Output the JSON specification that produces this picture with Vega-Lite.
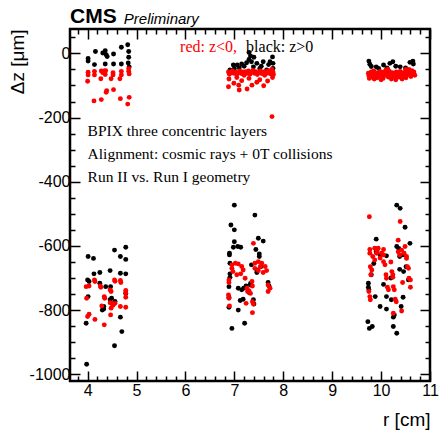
{
  "$schema": "https://vega.github.io/schema/vega-lite/v6.json",
  "width": 360,
  "height": 352,
  "autosize": {"type": "none"},
  "padding": {"left": 70, "top": 29, "right": 10, "bottom": 49},
  "background": "white",
  "config": {"view": {"stroke": "#000", "strokeWidth": 2.5}, "font": "Liberation Sans"},
  "datasets": {
    "one": [{}],
    "pts": [
      {"r":4.01,"dz":-16,"s":"pos"},{"r":4.01,"dz":-24,"s":"pos"},{"r":4.16,"dz":6,"s":"pos"},{"r":4.14,"dz":-35,"s":"pos"},{"r":4.31,"dz":1,"s":"pos"},{"r":4.36,"dz":8,"s":"pos"},{"r":4.38,"dz":-4,"s":"pos"},{"r":4.36,"dz":-33,"s":"pos"},{"r":4.53,"dz":-2,"s":"pos"},{"r":4.53,"dz":-33,"s":"pos"},{"r":4.69,"dz":19,"s":"pos"},{"r":4.69,"dz":-33,"s":"pos"},{"r":4.82,"dz":27,"s":"pos"},{"r":4.84,"dz":6,"s":"pos"},{"r":4.84,"dz":-12,"s":"pos"},{"r":4.83,"dz":-30,"s":"pos"},{"r":4.85,"dz":-42,"s":"pos"},{"r":4.40,"dz":-10,"s":"pos"},
      {"r":6.91,"dz":-52,"s":"pos"},{"r":6.98,"dz":-36,"s":"pos"},{"r":7.06,"dz":-36,"s":"pos"},{"r":7.15,"dz":-33,"s":"pos"},{"r":7.25,"dz":-29,"s":"pos"},{"r":7.30,"dz":-19,"s":"pos"},{"r":7.35,"dz":-26,"s":"pos"},{"r":7.39,"dz":-42,"s":"pos"},{"r":7.46,"dz":-31,"s":"pos"},{"r":7.52,"dz":-47,"s":"pos"},{"r":7.59,"dz":-26,"s":"pos"},{"r":7.66,"dz":-52,"s":"pos"},{"r":7.73,"dz":-26,"s":"pos"},{"r":7.78,"dz":-11,"s":"pos"},{"r":7.79,"dz":-31,"s":"pos"},{"r":7.79,"dz":-47,"s":"pos"},{"r":7.30,"dz":3,"s":"pos"},{"r":7.40,"dz":-12,"s":"pos"},{"r":7.33,"dz":-8,"s":"pos"},{"r":7.10,"dz":-45,"s":"pos"},{"r":7.20,"dz":-40,"s":"pos"},{"r":7.00,"dz":-48,"s":"pos"},{"r":7.55,"dz":-40,"s":"pos"},{"r":7.70,"dz":-35,"s":"pos"},
      {"r":9.75,"dz":-24,"s":"pos"},{"r":9.77,"dz":-34,"s":"pos"},{"r":9.80,"dz":-41,"s":"pos"},{"r":9.90,"dz":-42,"s":"pos"},{"r":10.05,"dz":-36,"s":"pos"},{"r":10.18,"dz":-31,"s":"pos"},{"r":10.24,"dz":-26,"s":"pos"},{"r":10.30,"dz":-40,"s":"pos"},{"r":10.39,"dz":-42,"s":"pos"},{"r":10.50,"dz":-45,"s":"pos"},{"r":10.59,"dz":-28,"s":"pos"},{"r":10.65,"dz":-24,"s":"pos"},{"r":10.66,"dz":-33,"s":"pos"},{"r":10.12,"dz":-45,"s":"pos"},{"r":9.95,"dz":-47,"s":"pos"},
      {"r":3.98,"dz":-969,"s":"pos"},{"r":3.97,"dz":-841,"s":"pos"},{"r":4.01,"dz":-633,"s":"pos"},{"r":4.12,"dz":-639,"s":"pos"},{"r":4.00,"dz":-706,"s":"pos"},{"r":4.03,"dz":-711,"s":"pos"},{"r":4.01,"dz":-758,"s":"pos"},{"r":4.13,"dz":-687,"s":"pos"},{"r":4.25,"dz":-683,"s":"pos"},{"r":4.25,"dz":-716,"s":"pos"},{"r":4.33,"dz":-797,"s":"pos"},{"r":4.33,"dz":-789,"s":"pos"},{"r":4.37,"dz":-727,"s":"pos"},{"r":4.46,"dz":-677,"s":"pos"},{"r":4.47,"dz":-727,"s":"pos"},{"r":4.49,"dz":-763,"s":"pos"},{"r":4.46,"dz":-768,"s":"pos"},{"r":4.55,"dz":-613,"s":"pos"},{"r":4.55,"dz":-911,"s":"pos"},{"r":4.56,"dz":-773,"s":"pos"},{"r":4.67,"dz":-633,"s":"pos"},{"r":4.67,"dz":-685,"s":"pos"},{"r":4.67,"dz":-822,"s":"pos"},{"r":4.70,"dz":-867,"s":"pos"},{"r":4.78,"dz":-604,"s":"pos"},{"r":4.78,"dz":-642,"s":"pos"},{"r":4.78,"dz":-687,"s":"pos"},{"r":4.78,"dz":-748,"s":"pos"},{"r":4.52,"dz":-780,"s":"pos"},{"r":4.30,"dz":-800,"s":"pos"},
      {"r":7.00,"dz":-473,"s":"pos"},{"r":7.42,"dz":-504,"s":"pos"},{"r":6.93,"dz":-535,"s":"pos"},{"r":7.00,"dz":-550,"s":"pos"},{"r":7.00,"dz":-587,"s":"pos"},{"r":6.98,"dz":-604,"s":"pos"},{"r":7.07,"dz":-602,"s":"pos"},{"r":7.13,"dz":-604,"s":"pos"},{"r":6.90,"dz":-623,"s":"pos"},{"r":6.90,"dz":-628,"s":"pos"},{"r":6.91,"dz":-654,"s":"pos"},{"r":6.91,"dz":-687,"s":"pos"},{"r":6.91,"dz":-698,"s":"pos"},{"r":6.89,"dz":-727,"s":"pos"},{"r":6.89,"dz":-760,"s":"pos"},{"r":6.89,"dz":-791,"s":"pos"},{"r":6.95,"dz":-857,"s":"pos"},{"r":7.08,"dz":-800,"s":"pos"},{"r":7.08,"dz":-732,"s":"pos"},{"r":7.15,"dz":-737,"s":"pos"},{"r":7.19,"dz":-732,"s":"pos"},{"r":7.18,"dz":-766,"s":"pos"},{"r":7.21,"dz":-841,"s":"pos"},{"r":7.24,"dz":-725,"s":"pos"},{"r":7.33,"dz":-722,"s":"pos"},{"r":7.33,"dz":-717,"s":"pos"},{"r":7.35,"dz":-659,"s":"pos"},{"r":7.39,"dz":-768,"s":"pos"},{"r":7.40,"dz":-781,"s":"pos"},{"r":7.49,"dz":-576,"s":"pos"},{"r":7.59,"dz":-585,"s":"pos"},{"r":7.44,"dz":-611,"s":"pos"},{"r":7.51,"dz":-625,"s":"pos"},{"r":7.51,"dz":-633,"s":"pos"},{"r":7.46,"dz":-675,"s":"pos"},{"r":7.46,"dz":-683,"s":"pos"},{"r":7.54,"dz":-665,"s":"pos"},{"r":7.69,"dz":-714,"s":"pos"},{"r":7.71,"dz":-725,"s":"pos"},{"r":7.30,"dz":-745,"s":"pos"},{"r":7.12,"dz":-770,"s":"pos"},
      {"r":10.32,"dz":-473,"s":"pos"},{"r":10.39,"dz":-483,"s":"pos"},{"r":10.49,"dz":-542,"s":"pos"},{"r":9.90,"dz":-579,"s":"pos"},{"r":9.74,"dz":-716,"s":"pos"},{"r":9.74,"dz":-729,"s":"pos"},{"r":9.75,"dz":-737,"s":"pos"},{"r":9.73,"dz":-836,"s":"pos"},{"r":9.82,"dz":-851,"s":"pos"},{"r":9.76,"dz":-857,"s":"pos"},{"r":9.88,"dz":-758,"s":"pos"},{"r":9.98,"dz":-789,"s":"pos"},{"r":9.90,"dz":-618,"s":"pos"},{"r":9.98,"dz":-628,"s":"pos"},{"r":10.11,"dz":-631,"s":"pos"},{"r":10.11,"dz":-758,"s":"pos"},{"r":10.11,"dz":-797,"s":"pos"},{"r":10.21,"dz":-768,"s":"pos"},{"r":10.25,"dz":-822,"s":"pos"},{"r":10.27,"dz":-815,"s":"pos"},{"r":10.32,"dz":-872,"s":"pos"},{"r":10.32,"dz":-602,"s":"pos"},{"r":10.36,"dz":-608,"s":"pos"},{"r":10.38,"dz":-633,"s":"pos"},{"r":10.45,"dz":-628,"s":"pos"},{"r":10.46,"dz":-680,"s":"pos"},{"r":10.38,"dz":-673,"s":"pos"},{"r":10.51,"dz":-665,"s":"pos"},{"r":10.41,"dz":-789,"s":"pos"},{"r":10.59,"dz":-592,"s":"pos"},{"r":10.56,"dz":-706,"s":"pos"},{"r":10.25,"dz":-851,"s":"pos"},{"r":10.20,"dz":-700,"s":"pos"},{"r":9.80,"dz":-690,"s":"pos"},{"r":10.05,"dz":-720,"s":"pos"},{"r":10.45,"dz":-760,"s":"pos"},{"r":9.85,"dz":-655,"s":"pos"},
      {"r":4.01,"dz":-59,"s":"neg"},{"r":4.01,"dz":-67,"s":"neg"},{"r":4.00,"dz":-87,"s":"neg"},{"r":4.14,"dz":-56,"s":"neg"},{"r":4.14,"dz":-67,"s":"neg"},{"r":4.28,"dz":-55,"s":"neg"},{"r":4.31,"dz":-60,"s":"neg"},{"r":4.34,"dz":-55,"s":"neg"},{"r":4.27,"dz":-79,"s":"neg"},{"r":4.37,"dz":-54,"s":"neg"},{"r":4.36,"dz":-66,"s":"neg"},{"r":4.52,"dz":-60,"s":"neg"},{"r":4.52,"dz":-67,"s":"neg"},{"r":4.48,"dz":-79,"s":"neg"},{"r":4.69,"dz":-56,"s":"neg"},{"r":4.69,"dz":-67,"s":"neg"},{"r":4.66,"dz":-79,"s":"neg"},{"r":4.84,"dz":-48,"s":"neg"},{"r":4.84,"dz":-56,"s":"neg"},{"r":4.85,"dz":-64,"s":"neg"},{"r":4.39,"dz":-116,"s":"neg"},{"r":4.38,"dz":-121,"s":"neg"},{"r":4.53,"dz":-113,"s":"neg"},{"r":4.13,"dz":-148,"s":"neg"},{"r":4.28,"dz":-144,"s":"neg"},{"r":4.67,"dz":-141,"s":"neg"},{"r":4.85,"dz":-137,"s":"neg"},{"r":4.82,"dz":-158,"s":"neg"},
      {"r":6.88,"dz":-58,"s":"neg"},{"r":6.90,"dz":-65,"s":"neg"},{"r":6.93,"dz":-60,"s":"neg"},{"r":6.96,"dz":-55,"s":"neg"},{"r":6.99,"dz":-62,"s":"neg"},{"r":7.02,"dz":-58,"s":"neg"},{"r":7.05,"dz":-66,"s":"neg"},{"r":7.08,"dz":-60,"s":"neg"},{"r":7.11,"dz":-55,"s":"neg"},{"r":7.14,"dz":-63,"s":"neg"},{"r":7.17,"dz":-58,"s":"neg"},{"r":7.20,"dz":-68,"s":"neg"},{"r":7.23,"dz":-57,"s":"neg"},{"r":7.26,"dz":-62,"s":"neg"},{"r":7.29,"dz":-55,"s":"neg"},{"r":7.32,"dz":-65,"s":"neg"},{"r":7.35,"dz":-59,"s":"neg"},{"r":7.38,"dz":-53,"s":"neg"},{"r":7.41,"dz":-62,"s":"neg"},{"r":7.44,"dz":-57,"s":"neg"},{"r":7.47,"dz":-66,"s":"neg"},{"r":7.50,"dz":-60,"s":"neg"},{"r":7.53,"dz":-55,"s":"neg"},{"r":7.56,"dz":-63,"s":"neg"},{"r":7.59,"dz":-58,"s":"neg"},{"r":7.62,"dz":-68,"s":"neg"},{"r":7.65,"dz":-56,"s":"neg"},{"r":7.68,"dz":-61,"s":"neg"},{"r":7.71,"dz":-54,"s":"neg"},{"r":7.74,"dz":-64,"s":"neg"},{"r":7.77,"dz":-50,"s":"neg"},{"r":7.79,"dz":-58,"s":"neg"},{"r":7.80,"dz":-66,"s":"neg"},
      {"r":6.88,"dz":-104,"s":"neg"},{"r":6.99,"dz":-93,"s":"neg"},{"r":7.09,"dz":-99,"s":"neg"},{"r":7.10,"dz":-114,"s":"neg"},{"r":7.26,"dz":-111,"s":"neg"},{"r":7.36,"dz":-99,"s":"neg"},{"r":7.46,"dz":-90,"s":"neg"},{"r":7.60,"dz":-101,"s":"neg"},{"r":6.89,"dz":-80,"s":"neg"},{"r":7.15,"dz":-85,"s":"neg"},{"r":7.30,"dz":-78,"s":"neg"},{"r":7.52,"dz":-82,"s":"neg"},{"r":7.68,"dz":-86,"s":"neg"},{"r":7.78,"dz":-75,"s":"neg"},{"r":7.05,"dz":-75,"s":"neg"},{"r":7.77,"dz":-197,"s":"neg"},
      {"r":9.74,"dz":-62,"s":"neg"},{"r":9.75,"dz":-70,"s":"neg"},{"r":9.76,"dz":-78,"s":"neg"},{"r":9.78,"dz":-66,"s":"neg"},{"r":9.80,"dz":-58,"s":"neg"},{"r":9.82,"dz":-74,"s":"neg"},{"r":9.84,"dz":-64,"s":"neg"},{"r":9.86,"dz":-80,"s":"neg"},{"r":9.88,"dz":-60,"s":"neg"},{"r":9.90,"dz":-70,"s":"neg"},{"r":9.92,"dz":-76,"s":"neg"},{"r":9.94,"dz":-62,"s":"neg"},{"r":9.96,"dz":-68,"s":"neg"},{"r":9.98,"dz":-56,"s":"neg"},{"r":10.00,"dz":-72,"s":"neg"},{"r":10.02,"dz":-64,"s":"neg"},{"r":10.04,"dz":-78,"s":"neg"},{"r":10.06,"dz":-58,"s":"neg"},{"r":10.08,"dz":-68,"s":"neg"},{"r":10.10,"dz":-52,"s":"neg"},{"r":10.12,"dz":-62,"s":"neg"},{"r":10.14,"dz":-50,"s":"neg"},{"r":10.15,"dz":-74,"s":"neg"},{"r":10.17,"dz":-56,"s":"neg"},{"r":10.19,"dz":-66,"s":"neg"},{"r":10.21,"dz":-80,"s":"neg"},{"r":10.23,"dz":-60,"s":"neg"},{"r":10.25,"dz":-70,"s":"neg"},{"r":10.27,"dz":-63,"s":"neg"},{"r":10.29,"dz":-76,"s":"neg"},{"r":10.31,"dz":-58,"s":"neg"},{"r":10.33,"dz":-68,"s":"neg"},{"r":10.35,"dz":-62,"s":"neg"},{"r":10.37,"dz":-74,"s":"neg"},{"r":10.39,"dz":-56,"s":"neg"},{"r":10.41,"dz":-66,"s":"neg"},{"r":10.43,"dz":-80,"s":"neg"},{"r":10.45,"dz":-60,"s":"neg"},{"r":10.47,"dz":-70,"s":"neg"},{"r":10.49,"dz":-64,"s":"neg"},{"r":10.51,"dz":-76,"s":"neg"},{"r":10.53,"dz":-56,"s":"neg"},{"r":10.55,"dz":-66,"s":"neg"},{"r":10.57,"dz":-50,"s":"neg"},{"r":10.59,"dz":-60,"s":"neg"},{"r":10.61,"dz":-72,"s":"neg"},{"r":10.63,"dz":-54,"s":"neg"},{"r":10.65,"dz":-64,"s":"neg"},{"r":10.67,"dz":-58,"s":"neg"},{"r":10.69,"dz":-68,"s":"neg"},{"r":9.85,"dz":-55,"s":"neg"},{"r":10.00,"dz":-82,"s":"neg"},{"r":10.30,"dz":-82,"s":"neg"},{"r":10.50,"dz":-50,"s":"neg"},
      {"r":3.97,"dz":-727,"s":"neg"},{"r":3.98,"dz":-763,"s":"neg"},{"r":4.00,"dz":-820,"s":"neg"},{"r":4.03,"dz":-813,"s":"neg"},{"r":4.03,"dz":-725,"s":"neg"},{"r":4.14,"dz":-706,"s":"neg"},{"r":4.15,"dz":-711,"s":"neg"},{"r":4.15,"dz":-829,"s":"neg"},{"r":4.26,"dz":-725,"s":"neg"},{"r":4.27,"dz":-729,"s":"neg"},{"r":4.29,"dz":-787,"s":"neg"},{"r":4.34,"dz":-758,"s":"neg"},{"r":4.35,"dz":-763,"s":"neg"},{"r":4.34,"dz":-846,"s":"neg"},{"r":4.46,"dz":-737,"s":"neg"},{"r":4.48,"dz":-742,"s":"neg"},{"r":4.46,"dz":-777,"s":"neg"},{"r":4.48,"dz":-794,"s":"neg"},{"r":4.47,"dz":-815,"s":"neg"},{"r":4.55,"dz":-706,"s":"neg"},{"r":4.56,"dz":-710,"s":"neg"},{"r":4.56,"dz":-779,"s":"neg"},{"r":4.67,"dz":-708,"s":"neg"},{"r":4.68,"dz":-714,"s":"neg"},{"r":4.67,"dz":-789,"s":"neg"},{"r":4.78,"dz":-739,"s":"neg"},{"r":4.78,"dz":-746,"s":"neg"},{"r":4.78,"dz":-760,"s":"neg"},{"r":4.78,"dz":-791,"s":"neg"},{"r":4.50,"dz":-780,"s":"neg"},{"r":4.52,"dz":-785,"s":"neg"},
      {"r":6.95,"dz":-659,"s":"neg"},{"r":7.02,"dz":-654,"s":"neg"},{"r":7.08,"dz":-656,"s":"neg"},{"r":7.15,"dz":-664,"s":"neg"},{"r":7.18,"dz":-675,"s":"neg"},{"r":7.13,"dz":-687,"s":"neg"},{"r":7.05,"dz":-690,"s":"neg"},{"r":6.97,"dz":-680,"s":"neg"},{"r":6.95,"dz":-670,"s":"neg"},{"r":6.89,"dz":-706,"s":"neg"},{"r":6.89,"dz":-714,"s":"neg"},{"r":6.88,"dz":-753,"s":"neg"},{"r":6.89,"dz":-763,"s":"neg"},{"r":6.90,"dz":-787,"s":"neg"},{"r":7.22,"dz":-701,"s":"neg"},{"r":7.26,"dz":-732,"s":"neg"},{"r":7.27,"dz":-742,"s":"neg"},{"r":7.24,"dz":-779,"s":"neg"},{"r":7.36,"dz":-711,"s":"neg"},{"r":7.37,"dz":-725,"s":"neg"},{"r":7.37,"dz":-774,"s":"neg"},{"r":7.39,"dz":-781,"s":"neg"},{"r":7.37,"dz":-808,"s":"neg"},{"r":7.39,"dz":-592,"s":"neg"},{"r":7.42,"dz":-654,"s":"neg"},{"r":7.49,"dz":-649,"s":"neg"},{"r":7.56,"dz":-654,"s":"neg"},{"r":7.63,"dz":-664,"s":"neg"},{"r":7.66,"dz":-677,"s":"neg"},{"r":7.59,"dz":-683,"s":"neg"},{"r":7.49,"dz":-677,"s":"neg"},{"r":7.42,"dz":-670,"s":"neg"},{"r":7.53,"dz":-665,"s":"neg"},{"r":7.69,"dz":-722,"s":"neg"},{"r":7.73,"dz":-732,"s":"neg"},{"r":7.69,"dz":-742,"s":"neg"},{"r":7.30,"dz":-740,"s":"neg"},{"r":7.33,"dz":-748,"s":"neg"},
      {"r":9.76,"dz":-509,"s":"neg"},{"r":10.39,"dz":-524,"s":"neg"},{"r":10.35,"dz":-582,"s":"neg"},{"r":9.77,"dz":-611,"s":"neg"},{"r":9.77,"dz":-623,"s":"neg"},{"r":9.83,"dz":-633,"s":"neg"},{"r":9.87,"dz":-607,"s":"neg"},{"r":9.94,"dz":-607,"s":"neg"},{"r":10.05,"dz":-611,"s":"neg"},{"r":10.01,"dz":-623,"s":"neg"},{"r":9.91,"dz":-623,"s":"neg"},{"r":10.05,"dz":-628,"s":"neg"},{"r":9.98,"dz":-638,"s":"neg"},{"r":9.87,"dz":-644,"s":"neg"},{"r":9.78,"dz":-665,"s":"neg"},{"r":9.81,"dz":-675,"s":"neg"},{"r":9.79,"dz":-690,"s":"neg"},{"r":9.75,"dz":-742,"s":"neg"},{"r":9.77,"dz":-758,"s":"neg"},{"r":9.78,"dz":-768,"s":"neg"},{"r":10.05,"dz":-649,"s":"neg"},{"r":10.08,"dz":-659,"s":"neg"},{"r":10.10,"dz":-690,"s":"neg"},{"r":10.11,"dz":-701,"s":"neg"},{"r":10.13,"dz":-729,"s":"neg"},{"r":10.15,"dz":-737,"s":"neg"},{"r":10.22,"dz":-680,"s":"neg"},{"r":10.24,"dz":-690,"s":"neg"},{"r":10.24,"dz":-698,"s":"neg"},{"r":10.25,"dz":-727,"s":"neg"},{"r":10.27,"dz":-737,"s":"neg"},{"r":10.29,"dz":-766,"s":"neg"},{"r":10.31,"dz":-774,"s":"neg"},{"r":10.25,"dz":-810,"s":"neg"},{"r":10.35,"dz":-618,"s":"neg"},{"r":10.38,"dz":-628,"s":"neg"},{"r":10.42,"dz":-613,"s":"neg"},{"r":10.49,"dz":-602,"s":"neg"},{"r":10.47,"dz":-623,"s":"neg"},{"r":10.52,"dz":-633,"s":"neg"},{"r":10.52,"dz":-639,"s":"neg"},{"r":10.44,"dz":-714,"s":"neg"},{"r":10.54,"dz":-665,"s":"neg"},{"r":10.56,"dz":-670,"s":"neg"},{"r":10.57,"dz":-701,"s":"neg"},{"r":10.60,"dz":-706,"s":"neg"},{"r":10.60,"dz":-729,"s":"neg"},{"r":10.42,"dz":-803,"s":"neg"},{"r":10.20,"dz":-650,"s":"neg"},{"r":9.92,"dz":-615,"s":"neg"}
    ]
  },
  "layer": [
    {
      "data": {"name": "pts"},
      "mark": {"type": "point", "opacity": 0},
      "encoding": {
        "x": {"field": "r", "type": "quantitative",
          "scale": {"domain": [3.64, 11], "nice": false, "zero": false},
          "axis": {"orient": "top", "values": [3.8,4,4.2,4.4,4.6,4.8,5,5.2,5.4,5.6,5.8,6,6.2,6.4,6.6,6.8,7,7.2,7.4,7.6,7.8,8,8.2,8.4,8.6,8.8,9,9.2,9.4,9.6,9.8,10,10.2,10.4,10.6,10.8,11],
            "labels": false, "domain": false, "grid": false, "title": null, "tickColor": "#000", "tickWidth": 1.5,
            "tickSize": {"condition": {"test": "datum.value % 1 === 0", "value": -10}, "value": -5}}},
        "y": {"field": "dz", "type": "quantitative",
          "scale": {"domain": [-1021, 76], "nice": false, "zero": false},
          "axis": {"orient": "right", "values": [-1000,-950,-900,-850,-800,-750,-700,-650,-600,-550,-500,-450,-400,-350,-300,-250,-200,-150,-100,-50,0,50],
            "labels": false, "domain": false, "grid": false, "title": null, "tickColor": "#000", "tickWidth": 1.5,
            "tickSize": {"condition": {"test": "datum.value % 200 === 0", "value": -10}, "value": -5}}}
      }
    },
    {
      "data": {"name": "pts"},
      "mark": {"type": "circle", "size": 24, "opacity": 1},
      "encoding": {
        "x": {"field": "r", "type": "quantitative",
          "scale": {"domain": [3.64, 11], "nice": false, "zero": false},
          "axis": {"orient": "bottom", "values": [3.8,4,4.2,4.4,4.6,4.8,5,5.2,5.4,5.6,5.8,6,6.2,6.4,6.6,6.8,7,7.2,7.4,7.6,7.8,8,8.2,8.4,8.6,8.8,9,9.2,9.4,9.6,9.8,10,10.2,10.4,10.6,10.8,11],
            "labelExpr": "datum.value % 1 === 0 ? '' + datum.value : ''",
            "labelFont": "Liberation Sans", "labelFontSize": 16, "labelColor": "#000", "labelPadding": 11, "labelOverlap": false, "labelFlush": false,
            "domain": false, "grid": false, "tickColor": "#000", "tickWidth": 1.5,
            "tickSize": {"condition": {"test": "datum.value % 1 === 0", "value": -10}, "value": -5},
            "title": "r [cm]", "titleFont": "Liberation Sans", "titleFontSize": 19, "titleFontWeight": "normal", "titleColor": "#000",
            "titleAlign": "right", "titleAnchor": "end", "titleX": 360, "titleY": 44, "titleBaseline": "alphabetic"}},
        "y": {"field": "dz", "type": "quantitative",
          "scale": {"domain": [-1021, 76], "nice": false, "zero": false},
          "axis": {"orient": "left", "values": [-1000,-950,-900,-850,-800,-750,-700,-650,-600,-550,-500,-450,-400,-350,-300,-250,-200,-150,-100,-50,0,50],
            "labelExpr": "datum.value % 200 === 0 ? '' + datum.value : ''",
            "labelFont": "Liberation Sans", "labelFontSize": 16, "labelColor": "#000", "labelPadding": 10, "labelOverlap": false, "labelFlush": false,
            "domain": false, "grid": false, "tickColor": "#000", "tickWidth": 1.5,
            "tickSize": {"condition": {"test": "datum.value % 200 === 0", "value": -10}, "value": -5},
            "title": "Δz [μm]", "titleFont": "Liberation Sans", "titleFontSize": 19, "titleFontWeight": "normal", "titleColor": "#000",
            "titleAngle": -90, "titleAlign": "right", "titleAnchor": "end", "titleX": -47, "titleY": 0, "titleBaseline": "alphabetic"}},
        "color": {"field": "s", "type": "nominal", "scale": {"domain": ["pos", "neg"], "range": ["#000000", "#ff0000"]}, "legend": null}
      }
    },
    {
      "data": {"name": "one"},
      "mark": {"type": "text", "text": "CMS", "font": "Liberation Sans", "fontWeight": "bold", "fontSize": 21, "align": "left", "baseline": "alphabetic", "color": "#000"},
      "encoding": {
        "x": {"datum": 3.64, "type": "quantitative", "scale": {"domain": [3.64, 11], "nice": false, "zero": false}, "axis": null},
        "y": {"datum": 94, "type": "quantitative", "scale": {"domain": [-1021, 76], "nice": false, "zero": false}, "axis": null}
      }
    },
    {
      "data": {"name": "one"},
      "mark": {"type": "text", "text": "Preliminary", "font": "Liberation Sans", "fontStyle": "italic", "fontSize": 15, "align": "left", "baseline": "alphabetic", "color": "#000"},
      "encoding": {
        "x": {"datum": 4.74, "type": "quantitative", "scale": {"domain": [3.64, 11], "nice": false, "zero": false}, "axis": null},
        "y": {"datum": 92, "type": "quantitative", "scale": {"domain": [-1021, 76], "nice": false, "zero": false}, "axis": null}
      }
    },
    {
      "data": {"name": "one"},
      "mark": {"type": "text", "text": "red: z<0,", "font": "Liberation Serif", "fontSize": 16, "align": "left", "baseline": "alphabetic", "color": "#ff0000"},
      "encoding": {
        "x": {"datum": 5.89, "type": "quantitative", "scale": {"domain": [3.64, 11], "nice": false, "zero": false}, "axis": null},
        "y": {"datum": 4, "type": "quantitative", "scale": {"domain": [-1021, 76], "nice": false, "zero": false}, "axis": null}
      }
    },
    {
      "data": {"name": "one"},
      "mark": {"type": "text", "text": "black: z>0", "font": "Liberation Serif", "fontSize": 16, "align": "left", "baseline": "alphabetic", "color": "#000"},
      "encoding": {
        "x": {"datum": 7.24, "type": "quantitative", "scale": {"domain": [3.64, 11], "nice": false, "zero": false}, "axis": null},
        "y": {"datum": 4, "type": "quantitative", "scale": {"domain": [-1021, 76], "nice": false, "zero": false}, "axis": null}
      }
    },
    {
      "data": {"name": "one"},
      "mark": {"type": "text", "text": "BPIX three concentric layers", "font": "Liberation Serif", "fontSize": 15.5, "align": "left", "baseline": "alphabetic", "color": "#000"},
      "encoding": {
        "x": {"datum": 4.0, "type": "quantitative", "scale": {"domain": [3.64, 11], "nice": false, "zero": false}, "axis": null},
        "y": {"datum": -258, "type": "quantitative", "scale": {"domain": [-1021, 76], "nice": false, "zero": false}, "axis": null}
      }
    },
    {
      "data": {"name": "one"},
      "mark": {"type": "text", "text": "Alignment: cosmic rays + 0T collisions", "font": "Liberation Serif", "fontSize": 15.5, "align": "left", "baseline": "alphabetic", "color": "#000"},
      "encoding": {
        "x": {"datum": 4.0, "type": "quantitative", "scale": {"domain": [3.64, 11], "nice": false, "zero": false}, "axis": null},
        "y": {"datum": -329, "type": "quantitative", "scale": {"domain": [-1021, 76], "nice": false, "zero": false}, "axis": null}
      }
    },
    {
      "data": {"name": "one"},
      "mark": {"type": "text", "text": "Run II vs. Run I geometry", "font": "Liberation Serif", "fontSize": 15.5, "align": "left", "baseline": "alphabetic", "color": "#000"},
      "encoding": {
        "x": {"datum": 4.0, "type": "quantitative", "scale": {"domain": [3.64, 11], "nice": false, "zero": false}, "axis": null},
        "y": {"datum": -401, "type": "quantitative", "scale": {"domain": [-1021, 76], "nice": false, "zero": false}, "axis": null}
      }
    }
  ],
  "resolve": {"axis": {"x": "independent", "y": "independent"}}
}
